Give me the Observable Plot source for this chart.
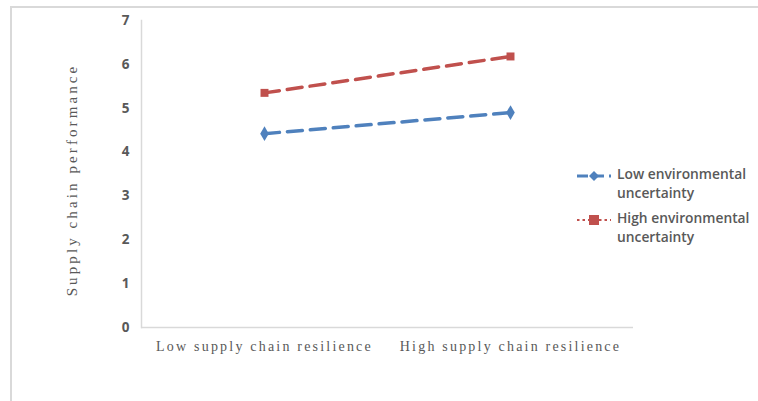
<!DOCTYPE html>
<html>
<head>
<meta charset="utf-8">
<script src="https://cdn.jsdelivr.net/npm/d3@7"></script>
<script src="https://cdn.jsdelivr.net/npm/@observablehq/plot@0.6"></script>
<style>
  html, body { margin: 0; padding: 0; background: #fff; }
  #wrap { position: relative; width: 758px; height: 401px; overflow: hidden; background: #fff; }
  #border { position: absolute; left: 10px; top: 6px; width: 900px; height: 600px; border: 2px solid #d9d9d9; box-sizing: border-box; }
  #chart { position: absolute; left: 0; top: 0; }
  #ytitle { position: absolute; left: 72px; top: 180px; transform: translate(-50%, -50%) rotate(-90deg); white-space: nowrap;
            font-family: "Liberation Serif", "DejaVu Serif", serif; font-size: 15px; letter-spacing: 3.1px; color: #595959; }
  #legend { position: absolute; left: 576px; top: 164px; font-family: "Open Sans", "Liberation Sans", sans-serif; font-weight: 600;
            font-size: 13.8px; color: #595959; line-height: 19px; }
  .item { display: flex; align-items: flex-start; margin-bottom: 6px; }
  .item svg { flex: none; margin-top: 2px; margin-right: 5px; }
</style>
</head>
<body>
<div id="wrap">
  <div id="border"></div>
  <div id="chart"></div>
  <div id="ytitle">Supply chain performance</div>
  <div id="legend"></div>
</div>
<script>
const categories = ["Low supply chain resilience", "High supply chain resilience"];
const seriesNames = ["Low environmental uncertainty", "High environmental uncertainty"];
const lowUncertainty = [4.42, 4.9];
const highUncertainty = [5.35, 6.18];
const yTicks = [0, 1, 2, 3, 4, 5, 6, 7];
const colors = ["#4f81bd", "#c0504d"];
const legendLines = ["Low environmental|uncertainty", "High environmental|uncertainty"];

const rows = [];
categories.forEach((c, i) => {
  rows.push({cat: c, series: seriesNames[0], value: lowUncertainty[i]});
  rows.push({cat: c, series: seriesNames[1], value: highUncertainty[i]});
});

const plot = Plot.plot({
  width: 758,
  height: 401,
  marginLeft: 141,
  marginRight: 125,
  marginTop: 20,
  marginBottom: 74,
  style: {background: "transparent", overflow: "visible"},
  x: {type: "point", domain: categories, padding: 0.5, label: null},
  y: {domain: [0, 7], label: null},
  color: {domain: seriesNames, range: colors},
  symbol: {domain: seriesNames, range: ["diamond", "square"]},
  marks: [
    Plot.frame({anchor: "left", stroke: "#d9d9d9", strokeWidth: 1.5}),
    Plot.ruleY([0], {stroke: "#d9d9d9", strokeWidth: 1.5}),
    Plot.axisY({ticks: yTicks, tickFormat: d3.format("d"), tickSize: 0, tickPadding: 12, fontSize: 13.5, fontWeight: "bold",
      fontFamily: "Open Sans, Liberation Sans, sans-serif", fill: "#595959", label: null}),
    Plot.axisX({tickSize: 0, tickPadding: 14, fontSize: 14, fill: "#595959",
      fontFamily: "Liberation Serif, DejaVu Serif, serif", label: null}),
    Plot.line(rows, {x: "cat", y: "value", z: "series", stroke: "series", strokeWidth: 3.5, strokeDasharray: "15,8"}),
    Plot.dot(rows, {x: "cat", y: "value", fill: "series", symbol: "series", r: 4.5, stroke: "none"})
  ]
});
plot.querySelectorAll("g[aria-label='x-axis tick label'] text").forEach(t => t.setAttribute("letter-spacing", "2.2px"));
document.getElementById("chart").appendChild(plot);

const legend = document.getElementById("legend");
seriesNames.forEach((s, i) => {
  const item = document.createElement("div");
  item.className = "item";
  const dash = i === 0 ? "11,5" : "2.5,3";
  const sw = i === 0 ? 3 : 2;
  const marker = i === 0
    ? `<path d="M18,5 L23,10 L18,15 L13,10 Z" fill="${colors[i]}"/>`
    : `<rect x="13" y="5" width="10" height="10" fill="${colors[i]}"/>`;
  item.innerHTML = `<svg width="36" height="20"><line x1="1" y1="10" x2="35" y2="10" stroke="${colors[i]}" stroke-width="${sw}" stroke-dasharray="${dash}"/>${marker}</svg><div>${legendLines[i].split("|").join("<br>")}</div>`;
  legend.appendChild(item);
});
</script>
</body>
</html>
